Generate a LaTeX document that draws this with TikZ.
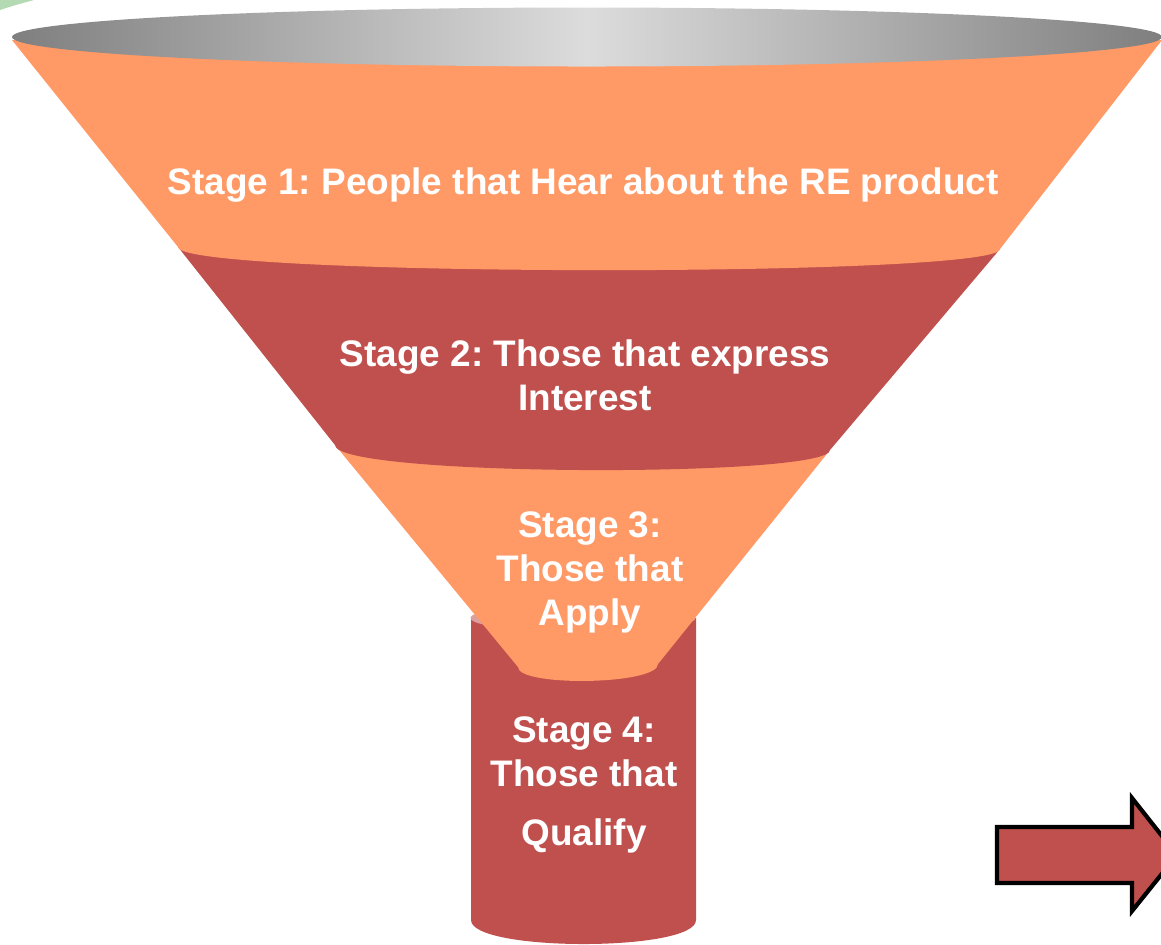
\documentclass[tikz,border=0pt]{standalone}
\usepackage{fontspec}
\setmainfont{Liberation Sans}

\definecolor{funnelorange}{HTML}{FF9966}
\definecolor{funnelred}{HTML}{C0504D}
\definecolor{rimgray}{HTML}{7F7F7F}
\definecolor{rimlight}{HTML}{DCDCDC}

\begin{document}
\frenchspacing
\begin{tikzpicture}[
    x = 0.01cm, % one unit = one pixel
    y = -0.01cm, % y grows downwards
    font = \fontsize{10.5}{12.5}\selectfont\bfseries
    ]

    \tikzset{stage text/.style={
    text = white,
    align = center,
    inner sep = 0pt
    }}
    \useasboundingbox (0,0) rectangle (1161,944);
    \clip (0,0) rectangle (1161,944);

    % bit of green in the corner
    \fill[green!35!gray!55, opacity=.8] (0,10) .. controls (12,6) .. (34,0) -- (0,0) -- cycle;

    % stage 4: the spout
    \fill[funnelred] (471,618) -- (471,920) .. controls (471,952) and (696,952) .. (696,920) -- (696,618) -- cycle;
    \fill[funnelred!55!white] (583,618) ellipse[x radius=112.5, y radius=14];

    % stage 3
    \fill[funnelorange] (335,445) -- (830,450) -- (658,664)
      .. controls (658,685) and (518,687) .. (518,667) -- cycle;

    % stage 2
    \fill[funnelred] (178,247) -- (1000,249) -- (830,450)
      .. controls (830,478) and (335,477) .. (335,445) -- cycle;

    % stage 1
    \fill[funnelorange] (12,40) -- (1162,40) -- (1000,249)
      .. controls (1000,278) and (178,277) .. (178,247) -- cycle;

    % rim of the funnel
    \shade[left color=rimgray, right color=rimgray, middle color=rimlight]
      (587,37) ellipse[x radius=575, y radius=29.5];

    % the arrow on the right
    \draw[fill=funnelred, line width=1.2pt, line join=miter]
      (997,827) -- (1132,827) -- (1132,798) -- (1177,855) -- (1132,911)
      -- (1132,883) -- (997,883) -- cycle;

    \node[stage text, anchor=base] (s1) at (583,194) {Stage 1: People that Hear about the RE product};
    \node[stage text] (s2) at (585,375) {Stage 2: Those that express\\Interest};
    \node[stage text] (s3) at (590,572) {Stage 3:\\Those that\\Apply};
    \node[stage text] (s4) at (584,785) {Stage 4:\\Those that\\[4.3pt]Qualify};
\end{tikzpicture}
\end{document}
